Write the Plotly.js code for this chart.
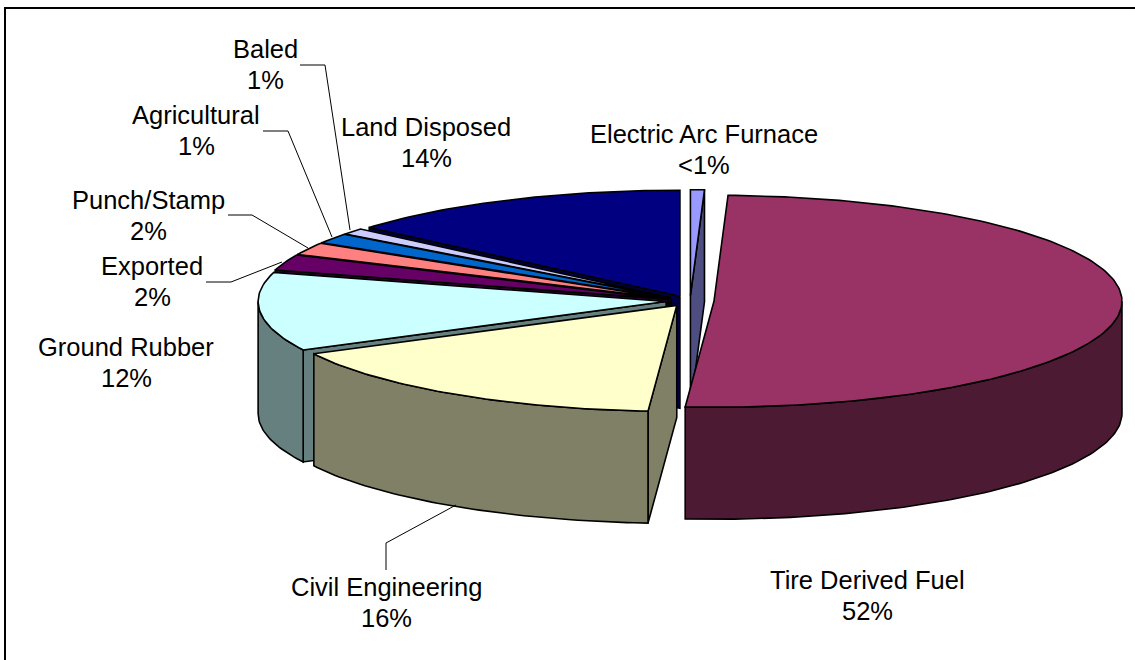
<!DOCTYPE html>
<html><head><meta charset="utf-8">
<script src="https://cdn.plot.ly/plotly-3.0.1.min.js"></script>
<style>html,body{margin:0;padding:0;background:#fff}#c{width:1135px;height:660px}</style>
</head><body><div id="c"></div>
<script>
// Data, clockwise from 12 o'clock
const categories = ['Electric Arc Furnace','Tire Derived Fuel','Civil Engineering','Ground Rubber','Exported','Punch/Stamp','Agricultural','Baled','Land Disposed'];
const percentLabels = ['<1%','52%','16%','12%','2%','2%','1%','1%','14%'];
const sliceShares = [0.55,50.65,16.35,12.0,2.4,1.9,1.55,0.95,13.8];
const topColors = ['#9999FF','#993366','#FFFFCC','#CCFFFF','#660066','#FF8080','#0066CC','#CCCCFF','#000080'];
const sideColors = ['#4D4D80','#4D1A33','#808066','#668080','#330033','#804040','#003366','#666680','#000040'];
const labelCentres = [[704,134],[867,580],[386,587],[126,347],[152,266],[148,200],[196,115],[265,49],[426,127]];
const paintOrder = [8,7,6,5,4,3,0,2,1];

// Projection of the tilted pie onto the pixel grid
const cx=690, cy=301, rx=408, ry=106, depth=112, explode=24, explodeY=0.22;
const total = sliceShares.reduce((a,b)=>a+b,0);
const rad = d=>d*Math.PI/180;
let acc=0.0;
const slices = sliceShares.map((v,i)=>{
  const a0=acc/total*360, a1=(acc+v)/total*360; acc+=v;
  const mid=rad((a0+a1)/2);
  return {i,a0,a1,ax:cx+explode*Math.sin(mid),ay:cy-explode*explodeY*Math.cos(mid)};
});
const pt=(s,a)=>[s.ax+rx*Math.sin(rad(a)), s.ay-ry*Math.cos(rad(a))];
function arc(s,from,to){const n=Math.max(2,Math.ceil(Math.abs(to-from)));const o=[];
  for(let k=0;k<=n;k++)o.push(pt(s,from+(to-from)*k/n));return o;}
const traces=[];
function poly(points,fill){
  const closed=points.concat([points[0]]);
  traces.push({type:'scatter',mode:'lines',x:closed.map(p=>p[0]),y:closed.map(p=>p[1]),
    fill:'toself',fillcolor:fill,line:{color:'#000',width:1.6},hoverinfo:'skip',showlegend:false});
}
const drop=p=>[p[0],p[1]+depth];
paintOrder.forEach(i=>{
  const s=slices[i], A=[s.ax,s.ay], side=sideColors[i];
  const sinA0=Math.sin(rad(s.a0)), sinA1=Math.sin(rad(s.a1));
  if(sinA0<-1e-6){const P=pt(s,s.a0);poly([A,P,drop(P),drop(A)],side);}
  if(sinA1>1e-6){const P=pt(s,s.a1);poly([A,P,drop(P),drop(A)],side);}
  const w0=Math.max(s.a0,90), w1=Math.min(s.a1,270);
  if(w1>w0){const e=arc(s,w0,w1);poly(e.concat(e.slice().reverse().map(drop)),side);}
  poly([A].concat(arc(s,s.a0,s.a1)),topColors[i]);
});

// Leader lines from labels to slices
const leaders=[[[300,65],[325,65],[350,230]],[[263,131],[288,131],[332,237]],[[228,215],[252,215],[308,248]],[[206,282],[231,282],[282,262]],[[386,570],[386,543],[456,505]]];
const shapes=leaders.map(l=>({type:'path',xref:'x',yref:'y',line:{color:'#000',width:1},
  path:'M'+l.map(p=>p.join(' ')).join(' L')}));
// Frame: left and top edges only, running off the page
shapes.push({type:'path',xref:'x',yref:'y',line:{color:'#000',width:2},path:'M5 660 L5 8 L1135 8'});

const annotations=[];
categories.forEach((c,i)=>{
  const [x,y]=labelCentres[i];
  [[c,y],[percentLabels[i].replace('<','&lt;'),y+31]].forEach(([t,yy])=>annotations.push({
    text:t,x,y:yy,xref:'x',yref:'y',showarrow:false,xanchor:'center',yanchor:'middle',
    font:{family:'Liberation Sans, Arial, sans-serif',size:25.5,color:'#000'}}));
});
Plotly.newPlot('c',traces,{
  width:1135,height:660,margin:{l:0,r:0,t:0,b:0},paper_bgcolor:'#fff',plot_bgcolor:'#fff',showlegend:false,
  xaxis:{range:[0,1135],visible:false,fixedrange:true},
  yaxis:{range:[660,0],visible:false,fixedrange:true},
  shapes,annotations},{displayModeBar:false,staticPlot:true});
</script></body></html>
